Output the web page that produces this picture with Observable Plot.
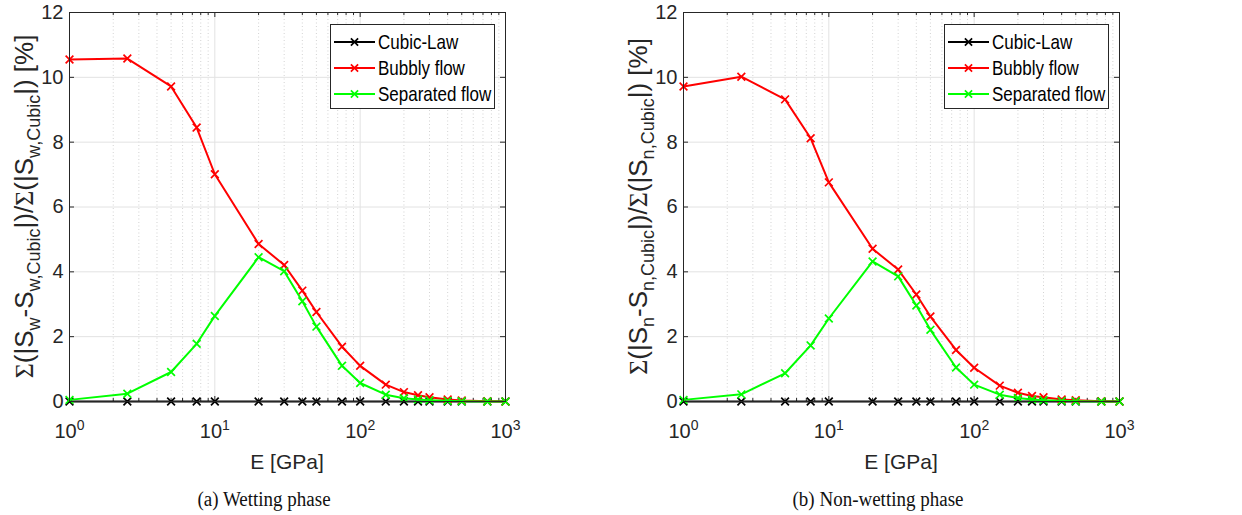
<!DOCTYPE html>
<html><head><meta charset="utf-8">
<script src="https://cdn.jsdelivr.net/npm/d3@7"></script>
<script src="https://cdn.jsdelivr.net/npm/@observablehq/plot@0.6"></script>
<style>
body{margin:0;background:#fff;}
#wrap{position:relative;width:1242px;height:515px;overflow:hidden;font-family:"Liberation Sans",Arial,sans-serif;color:#262626;}
.panel{position:absolute;top:0;width:600px;height:515px;}
.panel svg.chart{position:absolute;left:0;top:0;}
.panel svg.legend{position:absolute;left:330px;top:24px;}
.caption{position:absolute;top:489px;font-family:"Liberation Serif","Times New Roman",serif;font-size:19px;color:#111;white-space:nowrap;transform:translateX(-50%) scaleY(1.05);}
</style></head><body><div id="wrap"></div>
<script>
// ---- data ----
const E = [1, 2.5, 5, 7.5, 10, 20, 30, 40, 50, 75, 100, 150, 200, 250, 300, 400, 500, 750, 1000];
const seriesNames = ["Cubic-Law", "Bubbly flow", "Separated flow"];
const seriesColors = ["#000000", "#ff0000", "#00ff00"];

const cubicWet     = [0,0,0,0,0,0,0,0,0,0,0,0,0,0,0,0,0,0,0];
const bubblyWet    = [10.55,10.58,9.72,8.45,7.01,4.86,4.21,3.42,2.76,1.69,1.10,0.52,0.29,0.19,0.13,0.06,0.03,0.01,0.0];
const separatedWet = [0.05,0.24,0.91,1.78,2.64,4.45,4.02,3.09,2.31,1.10,0.57,0.21,0.10,0.06,0.04,0.02,0.01,0.0,0.0];

const cubicNon     = [0,0,0,0,0,0,0,0,0,0,0,0,0,0,0,0,0,0,0];
const bubblyNon    = [9.72,10.02,9.32,8.12,6.76,4.71,4.07,3.30,2.62,1.59,1.04,0.49,0.27,0.17,0.13,0.06,0.04,0.01,0.0];
const separatedNon = [0.05,0.22,0.87,1.73,2.56,4.32,3.86,2.96,2.21,1.05,0.52,0.21,0.11,0.06,0.04,0.02,0.01,0.0,0.0];

const xMajorTicks = [1, 10, 100, 1000];
const xMinorTicks = [2,3,4,5,6,7,8,9,20,30,40,50,60,70,80,90,200,300,400,500,600,700,800,900];
const yTicks = [0, 2, 4, 6, 8, 10, 12];
const xLabel = "E [GPa]";
const captions = ["(a) Wetting phase", "(b) Non-wetting phase"];
const phaseSub = ["w", "n"];

const panels = [
  {left: 0,   values: [cubicWet, bubblyWet, separatedWet], sub: phaseSub[0], caption: captions[0], capX: 264},
  {left: 614, values: [cubicNon, bubblyNon, separatedNon], sub: phaseSub[1], caption: captions[1], capX: 878 - 614}
];

const W = 600, H = 478, ML = 69, MR = 95, MT = 12, MB = 77;
const ink = "#262626";

function buildPanel(cfg) {
  const div = document.createElement("div");
  div.className = "panel";
  div.style.left = cfg.left + "px";

  const seriesMarks = [];
  seriesNames.forEach((name, i) => {
    const rows = E.map((e, j) => ({E: e, v: cfg.values[i][j], s: name}));
    seriesMarks.push(Plot.line(rows, {x: "E", y: "v", stroke: "s", strokeWidth: 2}));
    seriesMarks.push(Plot.dot(rows, {x: "E", y: "v", stroke: "s", symbol: "times", r: 3.6, strokeWidth: 1.7}));
  });

  const chart = Plot.plot({
    width: W, height: H, marginLeft: ML, marginRight: MR, marginTop: MT, marginBottom: MB,
    style: {fontFamily: '"Liberation Sans", Arial, sans-serif', fontSize: "20px", color: ink, background: "white", overflow: "visible"},
    x: {type: "log", domain: [1, 1000]},
    y: {domain: [0, 12]},
    color: {domain: seriesNames, range: seriesColors},
    marks: [
      Plot.gridX(xMinorTicks, {stroke: "#c8c8c8", strokeOpacity: 1, strokeWidth: 0.8, strokeDasharray: "1,2.5"}),
      Plot.gridX(xMajorTicks, {stroke: "#e2e2e2", strokeOpacity: 1}),
      Plot.gridY(yTicks, {stroke: "#e2e2e2", strokeOpacity: 1}),
      Plot.axisX(xMajorTicks, {tickSize: 0, tickPadding: 22, tickFormat: d => String(Math.round(Math.log10(d))), label: null, fill: ink}),
      Plot.axisY(yTicks, {tickSize: 0, tickPadding: 6, label: null, fill: ink}),
      // inward ticks on all four sides
      Plot.ruleX(xMajorTicks, {x: d => d, y1: 0, y2: 0, insetTop: -5, stroke: ink}),
      Plot.ruleX(xMajorTicks, {x: d => d, y1: 12, y2: 12, insetBottom: -5, stroke: ink}),
      Plot.ruleX(xMinorTicks, {x: d => d, y1: 0, y2: 0, insetTop: -3, stroke: ink}),
      Plot.ruleX(xMinorTicks, {x: d => d, y1: 12, y2: 12, insetBottom: -3, stroke: ink}),
      Plot.ruleY(yTicks, {y: d => d, x1: 1, x2: 1, insetRight: -5, stroke: ink}),
      Plot.ruleY(yTicks, {y: d => d, x1: 1000, x2: 1000, insetLeft: -5, stroke: ink}),
      ...seriesMarks,
      Plot.frame({stroke: ink, strokeWidth: 1})
    ]
  });
  chart.classList.add("chart");

  const svg = d3.select(chart);
  svg.selectAll('g[aria-label="x-axis tick label"] text, g[aria-label="y-axis tick label"] text')
    .style("font-size", "20px");
  // superscript tick labels 10^k
  svg.selectAll('g[aria-label="x-axis tick label"] text').each(function() {
    const t = d3.select(this);
    const k = t.text();
    t.text(null);
    t.append("tspan").text("10");
    t.append("tspan").attr("dy", "-8").style("font-size", "14px").text(k);
  });

  // x label
  svg.append("text")
    .attr("x", ML + (W - ML - MR) / 2).attr("y", 469)
    .attr("text-anchor", "middle").style("font-size", "21px").attr("fill", ink)
    .text(xLabel);

  // y label with subscripts
  const cy = MT + (H - MT - MB) / 2;
  const yl = svg.append("text")
    .attr("transform", `translate(33,${cy}) rotate(-90)`)
    .attr("text-anchor", "middle").style("font-size", "26px").attr("fill", ink);
  const s = cfg.sub;
  const parts = [
    ["Σ", "sig"], ["(|S", ""], [s, "sub"], ["-S", "up"], [s + ",Cubic", "sub"], ["|)/", "up"],
    ["Σ", "sig"], ["(|S", ""], [s + ",Cubic", "sub"], ["|) [%]", "up"]
  ];
  let lowered = false;
  parts.forEach(([txt, kind]) => {
    const ts = yl.append("tspan").text(txt);
    if (kind === "sig") { ts.attr("font-family", '"Liberation Serif", serif'); }
    if (kind === "sub") { ts.style("font-size", "18px").attr("dy", "7"); lowered = true; }
    if (kind === "up" && lowered) { ts.attr("dy", "-7"); lowered = false; }
  });

  div.appendChild(chart);

  // legend
  const leg = document.createElementNS("http://www.w3.org/2000/svg", "svg");
  leg.setAttribute("class", "legend");
  leg.setAttribute("width", 166);
  leg.setAttribute("height", 86);
  const lg = d3.select(leg);
  lg.append("rect").attr("x", 0.5).attr("y", 0.5).attr("width", 164).attr("height", 84)
    .attr("fill", "white").attr("stroke", ink).attr("stroke-width", 1);
  seriesNames.forEach((name, i) => {
    const yy = 18 + i * 26;
    lg.append("line").attr("x1", 4).attr("x2", 45).attr("y1", yy).attr("y2", yy)
      .attr("stroke", seriesColors[i]).attr("stroke-width", 2);
    lg.append("path").attr("d", `M${24.5-3.6},${yy-3.6}L${24.5+3.6},${yy+3.6}M${24.5-3.6},${yy+3.6}L${24.5+3.6},${yy-3.6}`)
      .attr("stroke", seriesColors[i]).attr("stroke-width", 1.7);
    lg.append("text").attr("transform", `translate(48,${yy + 7}) scale(1,1.2)`).style("font-size", "17px")
      .attr("font-family", '"Liberation Sans", Arial, sans-serif').attr("fill", "#000").text(name);
  });
  div.appendChild(leg);

  const cap = document.createElement("div");
  cap.className = "caption";
  cap.style.left = cfg.capX + "px";
  cap.textContent = cfg.caption;
  div.appendChild(cap);

  document.getElementById("wrap").appendChild(div);
}

panels.forEach(buildPanel);
</script>
</body></html>
